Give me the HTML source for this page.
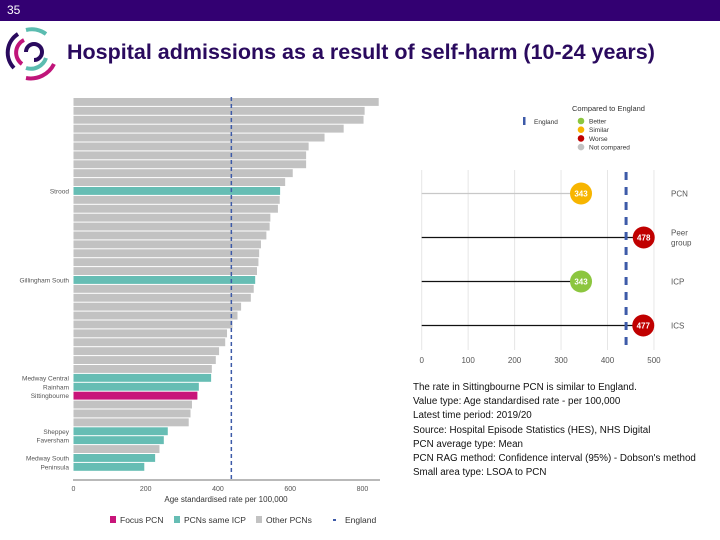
<!DOCTYPE html>
<html><head><meta charset="utf-8"><style>
body{margin:0;width:720px;height:540px;overflow:hidden;background:#fff;font-family:"Liberation Sans",sans-serif;position:relative}
.hdr{position:absolute;left:0;top:0;width:720px;height:21px;background:#330072;color:#fff;font-size:12px}
.title{position:absolute;left:67px;top:40px;font-size:21.5px;font-weight:bold;color:#2a0a5e;white-space:nowrap}
.notes{position:absolute;left:413px;top:381px;font-size:9.8px;line-height:14.2px;color:#111}
svg{position:absolute;left:0;top:0}
</style></head><body>
<div class="hdr"><span style="position:absolute;left:7px;top:3px">35</span></div>
<svg width="60" height="60" style="left:4px;top:24px">
<path d="M14 10 A22 22 0 0 0 10 44" stroke="#2a0a5e" stroke-width="4" fill="none"/>
<path d="M22 6 A24 24 0 0 1 42 10" stroke="#5bbcb0" stroke-width="4" fill="none"/>
<path d="M20 16 A14 14 0 0 0 18 40" stroke="#c0157a" stroke-width="4" fill="none"/>
<path d="M22 28 A8 8 0 1 1 30 36" stroke="#2a0a5e" stroke-width="4" fill="none"/>
<path d="M22 44 A16 16 0 0 0 42 34" stroke="#5bbcb0" stroke-width="4" fill="none"/>
<path d="M22 54 A26 26 0 0 0 50 40" stroke="#c0157a" stroke-width="4" fill="none"/>
</svg>
<div class="title">Hospital admissions as a result of self-harm (10-24 years)</div>
<svg id="left" width="400" height="540"></svg>
<svg id="right" width="720" height="540"></svg>
<div class="notes">The rate in Sittingbourne PCN is similar to England.<br>Value type: Age standardised rate - per 100,000<br>Latest time period: 2019/20<br>Source: Hospital Episode Statistics (HES), NHS Digital<br>PCN average type: Mean<br>PCN RAG method: Confidence interval (95%) - Dobson's method<br>Small area type: LSOA to PCN</div>
<script>
const barValues=[845,806,803,748,695,651,644,644,607,586,572,571,566,545,543,534,519,514,512,508,503,499,491,464,454,440,425,420,403,394,383,381,347,343,328,324,319,261,250,238,226,196];
const barGroups=["o","o","o","o","o","o","o","o","o","o","i","o","o","o","o","o","o","o","o","o","i","o","o","o","o","o","o","o","o","o","o","i","i","f","o","o","o","i","i","o","i","i"];
const barLabels={10:"Strood",20:"Gillingham South",31:"Medway Central",32:"Rainham",33:"Sittingbourne",37:"Sheppey",38:"Faversham",40:"Medway South",41:"Peninsula"};
const xTicks=[0,200,400,600,800];
const englandValue=437;
const legendItems=["Focus PCN","PCNs same ICP","Other PCNs","England"];
const rowLabels=["PCN","Peer group","ICP","ICS"];
const rowValues=[343,478,343,477];
const rowStatus=["Similar","Worse","Better","Worse"];
const rTicks=[0,100,200,300,400,500];
const rEngland=440;

const NS="http://www.w3.org/2000/svg";
function mk(p,t,a,txt){const e=document.createElementNS(NS,t);for(const k in a)e.setAttribute(k,a[k]);if(txt!=null)e.textContent=txt;p.appendChild(e);return e;}
const L=document.getElementById('left');
const x=v=>73.5+v*0.3612;
const top0=98,pitch=8.9;
const col={o:"#c2c2c2",i:"#66bdb4",f:"#c8157a"};
barValues.forEach((v,i)=>{
 const r=mk(L,'rect',{x:x(0),y:top0+i*pitch,width:x(v)-x(0),height:pitch-1,fill:col[barGroups[i]]});
 
 
 if(barLabels[i]){const t=mk(L,'text',{x:69,y:top0+i*pitch+6.5,'font-size':6.5,'text-anchor':'end',fill:'#555'},barLabels[i]);
 
 }
});
mk(L,'line',{x1:x(englandValue),x2:x(englandValue),y1:97,y2:480,stroke:'#3d5aa8','stroke-width':1.5,'stroke-dasharray':'4,3'});
mk(L,'line',{x1:73,x2:380,y1:480,y2:480,stroke:'#444','stroke-width':0.7});
xTicks.forEach(t=>{const e=mk(L,'text',{x:x(t),y:491,'font-size':7,'text-anchor':'middle',fill:'#555'},t);
 
 });
const at=mk(L,'text',{x:226,y:502,'font-size':8,'text-anchor':'middle',fill:'#333'},'Age standardised rate per 100,000');


const lx=[110,174,256,345],lc=['#c8157a','#66bdb4','#c2c2c2','#3d5aa8'];
legendItems.forEach((s,i)=>{
 if(i<3)mk(L,'rect',{x:lx[i],y:516,width:6,height:7,fill:lc[i]});else mk(L,'rect',{x:lx[i]-12,y:519,width:3,height:2,fill:lc[i]});
 const t=mk(L,'text',{x:lx[i]+(i<3?10:0),y:523,'font-size':8.5,fill:'#333'},s);
 
 
});
const R=document.getElementById('right');
const rx=v=>421.7+v*0.4645;
rTicks.forEach(t=>{mk(R,'line',{x1:rx(t),x2:rx(t),y1:170,y2:350,stroke:'#e6e6e6','stroke-width':1});
 const e=mk(R,'text',{x:rx(t),y:363,'font-size':8,'text-anchor':'middle',fill:'#555'},t);
 
 });
const sc={Better:'#8cc63f',Similar:'#f7b500',Worse:'#c00000','Not compared':'#c2c2c2'};
rowValues.forEach((v,i)=>{
 const y=193.5+i*44;
 mk(R,'line',{x1:rx(0),x2:rx(v),y1:y,y2:y,stroke:i==0?'#c8c8c8':'#111','stroke-width':1.3});
 const c=mk(R,'circle',{cx:rx(v),cy:y,r:11,fill:sc[rowStatus[i]]});
 
 
 mk(R,'text',{x:rx(v),y:y+3,'font-size':8,'font-weight':'bold','text-anchor':'middle',fill:'#fff'},v);
 const lab=rowLabels[i].split(' ');
 lab.forEach((w,j)=>{const t=mk(R,'text',{x:671,y:y+3-(lab.length-1)*5+j*10,'font-size':8,fill:'#555'},w);
 
 });
});
mk(R,'line',{x1:rx(rEngland),x2:rx(rEngland),y1:172,y2:352,stroke:'#3d5aa8','stroke-width':3,'stroke-dasharray':'8,7'});
mk(R,'text',{x:572,y:111,'font-size':7.5,fill:'#333'},'Compared to England');
mk(R,'rect',{x:523,y:117,width:2.5,height:8,fill:'#3d5aa8'});
mk(R,'text',{x:534,y:124,'font-size':6.5,fill:'#333'},'England');
['Better','Similar','Worse','Not compared'].forEach((s,i)=>{
 mk(R,'circle',{cx:581,cy:121+i*8.7,r:3.3,fill:sc[s]});
 const t=mk(R,'text',{x:589,y:123.5+i*8.7,'font-size':6.5,fill:'#333'},s);
 
 
});
</script>
</body></html>
